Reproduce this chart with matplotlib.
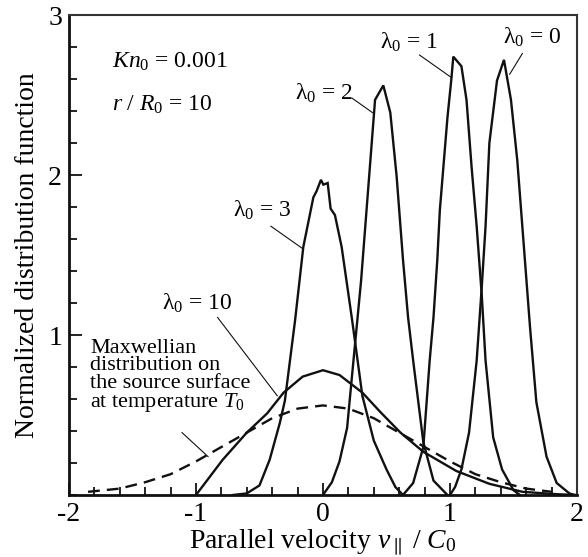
import numpy as np
import matplotlib
matplotlib.use("Agg")
import matplotlib.pyplot as plt
from matplotlib.ticker import MultipleLocator

plt.rcParams['font.family'] = ['Liberation Serif', 'DejaVu Serif']
plt.rcParams['mathtext.fontset'] = 'custom'
plt.rcParams['mathtext.rm'] = 'Liberation Serif'
plt.rcParams['mathtext.it'] = 'Liberation Serif:italic'
plt.rcParams['axes.unicode_minus'] = False

# distribution curves (v_par / C0, normalized f)
lam0_x = [1.00, 1.04, 1.09, 1.15, 1.21, 1.25, 1.28, 1.31, 1.37, 1.425,
          1.48, 1.53, 1.58, 1.63, 1.68, 1.76, 1.84, 1.94, 1.98]
lam0_y = [0.0, 0.05, 0.16, 0.39, 0.84, 1.30, 1.68, 2.20, 2.59, 2.72,
          2.47, 2.09, 1.57, 1.05, 0.58, 0.24, 0.075, 0.01, 0.0]

lam1_x = [0.63, 0.71, 0.79, 0.84, 0.87, 0.90, 0.92, 0.98, 1.012, 1.026,
          1.09, 1.13, 1.17, 1.21, 1.25, 1.28, 1.34, 1.41, 1.50, 1.55]
lam1_y = [0.0, 0.075, 0.30, 0.84, 1.11, 1.47, 1.78, 2.36, 2.61, 2.74,
          2.68, 2.47, 2.05, 1.68, 1.25, 0.84, 0.36, 0.16, 0.03, 0.0]

lam2_x = [0.0, 0.07, 0.13, 0.19, 0.21, 0.27, 0.30, 0.41, 0.475, 0.53,
          0.58, 0.63, 0.67, 0.71, 0.79, 0.87, 0.98]
lam2_y = [0.0, 0.08, 0.21, 0.42, 0.59, 1.09, 1.34, 2.47, 2.56, 2.39,
          1.99, 1.47, 1.11, 0.84, 0.33, 0.09, 0.0]

lam3_x = [-0.71, -0.60, -0.50, -0.42, -0.34, -0.30, -0.22, -0.155, -0.076,
          -0.05, -0.016, 0.003, 0.037, 0.06, 0.094, 0.147, 0.23, 0.31,
          0.40, 0.50, 0.57, 0.63]
lam3_y = [0.0, 0.01, 0.06, 0.22, 0.45, 0.59, 1.09, 1.55, 1.86,
          1.90, 1.97, 1.94, 1.95, 1.79, 1.75, 1.55, 1.09, 0.62,
          0.34, 0.16, 0.05, 0.0]

lam10_x = [-1.0, -0.79, -0.60, -0.44, -0.31, -0.16, 0.0, 0.13, 0.31, 0.45,
           0.61, 0.79, 1.05, 1.31, 1.57, 1.84, 2.0]
lam10_y = [0.0, 0.22, 0.39, 0.51, 0.64, 0.74, 0.78, 0.75, 0.64, 0.52,
           0.39, 0.27, 0.15, 0.07, 0.02, 0.005, 0.0]

maxw_x = [-1.85, -1.6, -1.4, -1.2, -1.0, -0.8, -0.6, -0.4, -0.2, 0.0,
          0.2, 0.4, 0.6, 0.8, 1.0, 1.2, 1.4, 1.6, 1.8]
maxw_y = [0.02, 0.04, 0.08, 0.13, 0.21, 0.30, 0.39, 0.48, 0.54, 0.56,
          0.54, 0.48, 0.39, 0.30, 0.21, 0.13, 0.08, 0.04, 0.02]

x_ticks = [-2, -1, 0, 1, 2]
y_ticks = [1, 2, 3]


def main():
    fig = plt.figure(figsize=(5.88, 5.57), dpi=100)
    ax = fig.add_axes([0.1173, 0.1113, 0.8640, 0.8617])

    for xs, ys in [(lam0_x, lam0_y), (lam1_x, lam1_y), (lam2_x, lam2_y),
                   (lam3_x, lam3_y), (lam10_x, lam10_y)]:
        ax.plot(xs, ys, color='#111111', lw=1.7, solid_joinstyle='miter')
    ax.plot(maxw_x, maxw_y, color='#111111', lw=1.7, dashes=(5, 3))

    ax.set_xlim(-2, 2)
    ax.set_ylim(0, 3)
    ax.set_xticks(x_ticks)
    ax.set_yticks(y_ticks)
    ax.xaxis.set_minor_locator(MultipleLocator(0.2))
    ax.yaxis.set_minor_locator(MultipleLocator(0.2))
    ax.tick_params(which='both', direction='in', top=False, right=False,
                   width=1.3, color='#111111', labelsize=20, pad=5)
    ax.tick_params(which='major', length=9)
    ax.tick_params(which='minor', length=6)
    for side in ['left', 'bottom']:
        ax.spines[side].set_linewidth(2.0)
        ax.spines[side].set_color('#111111')
    for side in ['top', 'right']:
        ax.spines[side].set_linewidth(1.5)
        ax.spines[side].set_color('#333333')

    ax.set_xlabel(r'Parallel velocity $v_{\parallel}\ /\ C_0$', fontsize=20,
                  labelpad=0)
    ax.set_ylabel('Normalized distribution function', fontsize=20,
                  labelpad=6)

    fs = 17
    ax.text(-1.66, 2.71, r'$Kn_0$ = 0.001', fontsize=fs, va='center')
    ax.text(-1.66, 2.44, r'$r\ /\ R_0$ = 10', fontsize=fs, va='center')

    labels = [
        (r'$\mathrm{\lambda}_0$ = 1', (0.45, 2.83), (0.76, 2.75), (1.01, 2.61)),
        (r'$\mathrm{\lambda}_0$ = 0', (1.42, 2.86), (1.57, 2.76), (1.47, 2.63)),
        (r'$\mathrm{\lambda}_0$ = 2', (-0.22, 2.51), (0.23, 2.48), (0.39, 2.39)),
        (r'$\mathrm{\lambda}_0$ = 3', (-0.71, 1.78), (-0.41, 1.68), (-0.16, 1.54)),
        (r'$\mathrm{\lambda}_0$ = 10', (-1.27, 1.20), (-0.83, 1.11), (-0.36, 0.62)),
    ]
    for txt, pos, start, end in labels:
        ax.text(pos[0], pos[1], txt, fontsize=fs, va='center')
        ax.plot([start[0], end[0]], [start[1], end[1]], color='#111111',
                lw=0.8)

    ax.text(-1.835, 0.74,
            'Maxwellian\ndistribution on\nthe source surface\n'
            r'at temperature $T_0$',
            fontsize=16, va='center', linespacing=0.9)
    ax.plot([-1.11, -0.905], [0.39, 0.24], color='#111111', lw=0.8)

    fig.savefig('out.png', dpi=100)


if __name__ == '__main__':
    main()
